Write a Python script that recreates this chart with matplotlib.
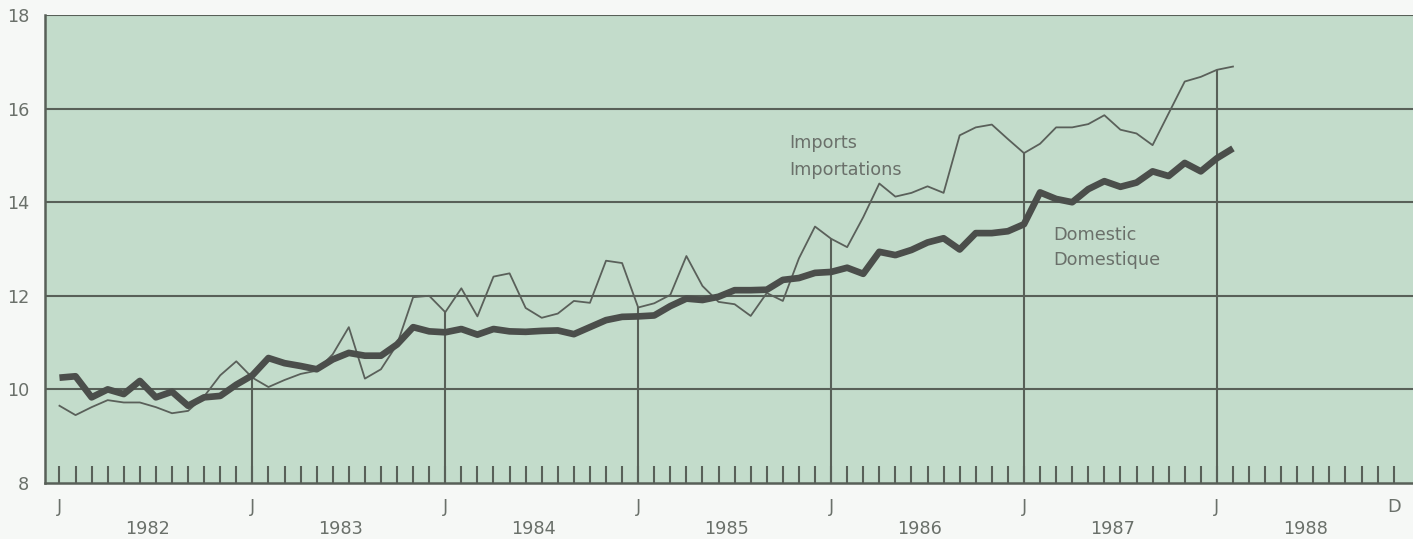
import matplotlib
matplotlib.use("Agg")
import matplotlib.pyplot as plt
import numpy as np

# Monthly index values, January 1982 to February 1988
imports = [
    9.65, 9.45, 9.62, 9.77, 9.72, 9.72, 9.62, 9.49, 9.54, 9.85, 10.30, 10.60,   # 1982
    10.25, 10.05, 10.20, 10.33, 10.40, 10.75, 11.33, 10.23, 10.43, 10.96, 11.97, 12.00,  # 1983
    11.65, 12.16, 11.56, 12.41, 12.48, 11.74, 11.53, 11.62, 11.89, 11.85, 12.75, 12.70,  # 1984
    11.75, 11.84, 12.02, 12.85, 12.21, 11.87, 11.82, 11.57, 12.06, 11.89, 12.80, 13.48,  # 1985
    13.22, 13.04, 13.68, 14.40, 14.12, 14.20, 14.34, 14.20, 15.43, 15.60, 15.66, 15.35,  # 1986
    15.05, 15.25, 15.60, 15.60, 15.67, 15.86, 15.55, 15.47, 15.22, 15.90, 16.58, 16.68,  # 1987
    16.83, 16.90,                                                                      # 1988
]
domestic = [
    10.25, 10.28, 9.83, 10.00, 9.90, 10.18, 9.83, 9.95, 9.65, 9.83, 9.86, 10.10,     # 1982
    10.30, 10.67, 10.56, 10.50, 10.43, 10.64, 10.78, 10.72, 10.72, 10.96, 11.33, 11.24,  # 1983
    11.22, 11.29, 11.17, 11.29, 11.24, 11.23, 11.25, 11.26, 11.18, 11.33, 11.48, 11.55,  # 1984
    11.56, 11.58, 11.78, 11.94, 11.91, 11.98, 12.12, 12.12, 12.13, 12.34, 12.38, 12.49,  # 1985
    12.51, 12.60, 12.47, 12.94, 12.87, 12.98, 13.14, 13.23, 12.99, 13.34, 13.34, 13.38,  # 1986
    13.53, 14.21, 14.07, 14.00, 14.28, 14.45, 14.33, 14.42, 14.66, 14.56, 14.84, 14.66,  # 1987
    14.94, 15.15,                                                                      # 1988
]
years = ["1982", "1983", "1984", "1985", "1986", "1987", "1988"]
month_marks = ["J", "J", "J", "J", "J", "J", "J", "D"]
y_ticks = [8, 10, 12, 14, 16, 18]

n_months = 12 * len(years)
months = np.arange(len(imports))

bg_green = "#c3dccb"
ink = "#586058"
line_dark = "#4b4e4b"
text_col = "#6a706a"

fig = plt.figure(figsize=(14.13, 5.39), dpi=100, facecolor="#f6f8f6")
ax = fig.add_axes([0.0315, 0.104, 0.9685, 0.868])
ax.set_facecolor(bg_green)
ax.set_xlim(-0.93, 84.2)
ax.set_ylim(8, 18)

# horizontal grid
for v in y_ticks[1:]:
    ax.axhline(v, color=ink, lw=1.5, zorder=1)

# January rules rising to the higher of the two series
for k in range(1, len(years)):
    m = 12 * k
    if m < len(months):
        top = max(imports[m], domestic[m])
        ax.vlines(m, 8, top, color=ink, lw=1.5, zorder=2)

ax.plot(months, imports, color="#5a605a", lw=1.3, zorder=3)
ax.plot(months, domestic, color=line_dark, lw=4.8, solid_joinstyle="round",
        solid_capstyle="butt", zorder=4)

# axes frame
for s in ["top", "right"]:
    ax.spines[s].set_visible(False)
for s in ["left", "bottom"]:
    ax.spines[s].set_color(ink)
    ax.spines[s].set_linewidth(1.8)

ax.set_xticks(np.arange(n_months))
ax.set_xticklabels([])
ax.tick_params(axis="x", direction="in", length=12.5, width=1.5, color=ink)
ax.set_yticks(y_ticks)
ax.set_yticklabels([str(v) for v in y_ticks], fontsize=12.7, color=text_col,
                   family="DejaVu Sans")
ax.tick_params(axis="y", length=0, pad=11)

# month letters and year names under the axis
mark_pos = [12 * k for k in range(len(years))] + [n_months - 1]
for pos, lab in zip(mark_pos, month_marks):
    ax.annotate(lab, xy=(pos, 0), xycoords=("data", "axes fraction"),
                xytext=(0, -17), textcoords="offset points",
                ha="center", va="center", fontsize=12.7, color=text_col)
for k, yr in enumerate(years):
    ax.annotate(yr, xy=(12 * k + 5.5, 0), xycoords=("data", "axes fraction"),
                xytext=(0, -33), textcoords="offset points",
                ha="center", va="center", fontsize=12.7, color=text_col)

# series names
ax.text(45.4, 15.27, "Imports", fontsize=12.7, color=text_col, va="center")
ax.text(45.4, 14.69, "Importations", fontsize=12.7, color=text_col, va="center")
ax.text(61.8, 13.29, "Domestic", fontsize=12.7, color=text_col, va="center")
ax.text(61.8, 12.76, "Domestique", fontsize=12.7, color=text_col, va="center")

fig.savefig("out.png", dpi=100, facecolor=fig.get_facecolor())
